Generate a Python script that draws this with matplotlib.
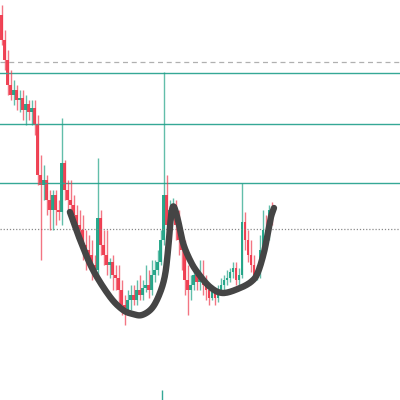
import numpy as np
import matplotlib
matplotlib.use("Agg")
import matplotlib.pyplot as plt

COL_UP = '#1fa386'
COL_DN = '#ef3b4e'
COL_LVL = '#35a896'
COL_CUP = '#454545'

# candle OHLC (price units)
opens = [385, 360, 340, 315, 305, 310, 300, 302, 290, 296, 288, 292, 275, 225, 215, 220,
         200, 190, 205, 190, 188, 237, 210, 200, 195, 185, 175, 170, 155, 150, 145, 135,
         130, 182, 155, 145, 135, 138, 125, 122, 110, 95, 90, 100, 105, 100, 110, 105,
         112, 115, 110, 125, 130, 138, 160, 205, 175, 190, 195, 175, 160, 150, 120, 110,
         115, 125, 118, 122, 115, 110, 102, 108, 102, 110, 115, 120, 122, 128, 132, 120,
         125, 178, 160, 145, 135, 125, 130, 150, 170, 165, 190]
closes = [360, 340, 315, 305, 310, 300, 302, 290, 296, 288, 292, 275, 225, 215, 220, 200,
          190, 205, 190, 188, 237, 210, 200, 195, 185, 175, 170, 155, 150, 145, 135, 130,
          182, 155, 145, 135, 138, 125, 122, 110, 95, 90, 100, 105, 100, 110, 105, 112,
          115, 110, 125, 130, 138, 160, 205, 175, 190, 195, 175, 160, 150, 120, 110, 115,
          125, 118, 122, 115, 110, 102, 108, 102, 110, 115, 120, 122, 128, 132, 120, 125,
          178, 160, 145, 135, 125, 130, 150, 170, 165, 190, 185]
highs = [395, 370, 350, 330, 320, 315, 310, 310, 305, 300, 300, 300, 285, 245, 235, 225,
         210, 210, 210, 200, 282, 240, 220, 220, 205, 195, 190, 185, 170, 165, 160, 145,
         242, 190, 170, 170, 142, 145, 135, 135, 120, 105, 110, 115, 115, 120, 125, 120,
         135, 130, 140, 140, 150, 170, 328, 225, 200, 202, 200, 190, 165, 160, 135, 125,
         132, 130, 140, 140, 125, 115, 115, 112, 115, 122, 125, 130, 132, 138, 138, 132,
         217, 188, 170, 160, 145, 135, 165, 190, 185, 195, 198]
lows = [355, 330, 305, 300, 295, 290, 288, 280, 275, 280, 275, 265, 215, 140, 200, 185,
        170, 170, 175, 180, 175, 200, 190, 188, 170, 165, 160, 140, 130, 135, 120, 125,
        120, 145, 135, 125, 122, 110, 110, 95, 85, 75, 85, 90, 95, 95, 100, 100,
        108, 102, 105, 118, 125, 135, 155, 165, 170, 180, 160, 145, 130, 105, 85, 100,
        110, 110, 110, 105, 100, 95, 100, 95, 98, 105, 110, 115, 118, 122, 115, 115,
        122, 150, 138, 128, 120, 120, 122, 140, 155, 160, 175]

# horizontal levels
teal_levels = [327, 276, 217]
dashed_level = 338
dotted_level = 171

# hand-drawn cup & handle stroke (bar index, price)
cup_x = [22.8, 26.2, 30.5, 36.2, 40.5, 43.8, 46.8, 50.2, 52.8, 54.5, 55.5, 56.2, 56.8,
         57.5, 58.8, 60.5, 62.8, 65.2, 69.5, 73.8, 79.5, 83.5, 85.5, 87.5, 88.8, 89.8, 90.8]
cup_y = [188, 160, 130, 103, 90, 86, 85, 92, 107, 125, 150, 175, 190,
         193, 180, 157, 140, 128, 113, 107, 112, 119, 128, 148, 168, 183, 192]


def smooth_stroke(xs, ys, n=12):
    # catmull-rom through the stroke points, just so the pen line isn't jagged
    p = np.column_stack([xs, ys]).astype(float)
    p = np.vstack([p[0], p, p[-1]])
    out = []
    t = np.linspace(0, 1, n, endpoint=False)[:, None]
    for i in range(1, len(p) - 2):
        p0, p1, p2, p3 = p[i - 1], p[i], p[i + 1], p[i + 2]
        seg = 0.5 * ((2 * p1) + (-p0 + p2) * t + (2 * p0 - 5 * p1 + 4 * p2 - p3) * t ** 2
                     + (-p0 + 3 * p1 - 3 * p2 + p3) * t ** 3)
        out.append(seg)
    out.append(p[-2][None, :])
    out = np.vstack(out)
    return out[:, 0], out[:, 1]


fig = plt.figure(figsize=(4, 4), dpi=100)
ax = fig.add_axes([0, 0, 1, 1])
ax.set_xlim(-0.5, 132.8)
ax.set_ylim(0, 400)
ax.axis('off')

ax.axhline(dashed_level, color='#b0b0b0', lw=0.9, ls=(0, (4, 3)))
ax.axhline(dotted_level, color='#8a8a8a', lw=0.9, ls=(0, (1, 1.5)))
for lv in teal_levels:
    ax.axhline(lv, color=COL_LVL, lw=1.0)

o = np.array(opens); c = np.array(closes)
h = np.array(highs); l = np.array(lows)
idx = np.arange(len(o))
cols = np.where(c >= o, COL_UP, COL_DN)
ax.vlines(idx, l, h, colors=cols, lw=1.0, alpha=0.7)
ax.bar(idx, np.maximum(np.abs(c - o), 1.5), bottom=np.minimum(o, c), width=0.7,
       color=cols, edgecolor='none', alpha=0.95)

ax.vlines(53.5, 0, 10, colors=COL_LVL, lw=1.0)

sx, sy = smooth_stroke(cup_x, cup_y)
ax.plot(sx, sy, color=COL_CUP, lw=4.6, solid_capstyle='round',
        solid_joinstyle='round')

fig.savefig('out.png', dpi=100)
